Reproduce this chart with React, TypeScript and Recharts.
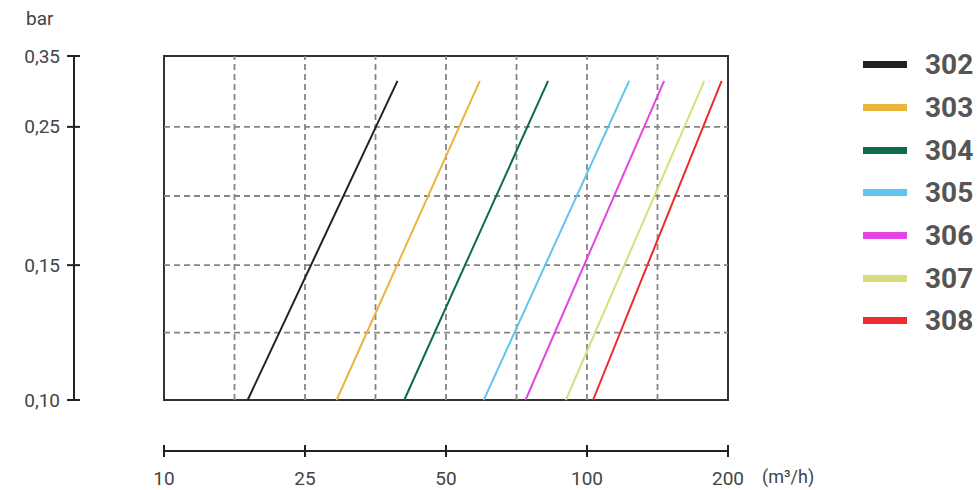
import { LineChart, Line, XAxis, YAxis, ReferenceLine, ReferenceArea } from 'recharts';

// axis labels (m3/h and bar); the chart places them at even steps, not on a true scale
const flowTicks = [10, 25, 50, 100, 200];
const pressureTicks = [0.1, 0.15, 0.25, 0.35];
const flowGrid = [17.5, 25, 37.5, 50, 75, 100, 150];
const pressureGrid = [0.125, 0.15, 0.2, 0.25];

const models = ['302', '303', '304', '305', '306', '307', '308'];
const colors = ['#222222', '#EDB43C', '#0D6B47', '#5EC5F0', '#E444E4', '#D9DE7C', '#EE2A2E'];
// flow at the bottom (0.10 bar) and top (~0.315 bar) of each curve
const flowStart = [18.9, 30.6, 42.6, 63.4, 78.2, 92.5, 104.3];
const flowEnd = [41.4, 62.0, 86.2, 129.9, 154.7, 183.2, 195.5];
const pressureStart = 0.1;
const pressureEnd = 0.315;

// step positions for the tick values
const flowSteps = [0, 1, 2, 3, 4];
const pressureSteps = [0, 0.98, 1.985, 2.5];

function toStep(v: number, vals: number[], steps: number[]) {
  for (let i = 0; i < vals.length - 1; i++) {
    if (v <= vals[i + 1] || i === vals.length - 2) {
      const t = (v - vals[i]) / (vals[i + 1] - vals[i]);
      return steps[i] + t * (steps[i + 1] - steps[i]);
    }
  }
  return steps[0];
}
const xs = (v: number) => toStep(v, flowTicks, flowSteps);
const ys = (v: number) => toStep(v, pressureTicks, pressureSteps);

const W = 979;
const H = 490;
const BOX_LEFT = 164;
const BOX_RIGHT = 728;
const BOX_TOP = 56;
const BOX_BOTTOM = 400;
const YAXIS_X = 74;
const XAXIS_Y = 451;
const pxX = (BOX_RIGHT - BOX_LEFT) / 4;
const pxY = (BOX_BOTTOM - BOX_TOP) / 2.5;
const xMin = -(BOX_LEFT - YAXIS_X) / pxX;
const yMin = -(XAXIS_Y - BOX_BOTTOM) / pxY;

const font = 'Roboto, "DejaVu Sans", sans-serif';
const axisColor = '#222';
const gridColor = '#858585';

const YTick = ({ x, y, payload }: any) => {
  const idx = pressureSteps.indexOf(payload.value);
  const label = idx >= 0 ? pressureTicks[idx].toFixed(2).replace('.', ',') : '';
  return (
    <g>
      <line x1={x - 7} x2={x + 6} y1={y} y2={y} stroke={axisColor} strokeWidth={2} />
      <text x={x - 14} y={y} textAnchor="end" dominantBaseline="central" fontSize={19} fill="#444" fontFamily={font}>
        {label}
      </text>
    </g>
  );
};

const XTick = ({ x, y, payload }: any) => {
  const idx = flowSteps.indexOf(payload.value);
  return (
    <g>
      <line x1={x} x2={x} y1={y - 6} y2={y + 6} stroke={axisColor} strokeWidth={2} />
      <text x={x} y={y + 27} textAnchor="middle" dominantBaseline="central" fontSize={19} fill="#444" fontFamily={font}>
        {idx >= 0 ? flowTicks[idx] : ''}
      </text>
    </g>
  );
};

export default function App() {
  return (
    <div style={{ position: 'absolute', left: 0, top: 0, width: W, height: H, background: '#fff' }}>
      <LineChart
        width={W}
        height={H}
        margin={{ top: BOX_TOP, left: 0, right: W - BOX_RIGHT, bottom: 0 }}
      >
        <XAxis
          type="number"
          dataKey="x"
          domain={[xMin, 4]}
          ticks={flowSteps}
          interval={0}
          allowDataOverflow
          height={H - XAXIS_Y}
          axisLine={false}
          tickLine={false}
          tickSize={0}
          tickMargin={0}
          tick={<XTick />}
        />
        <YAxis
          type="number"
          domain={[yMin, 2.5]}
          ticks={pressureSteps}
          interval={0}
          allowDataOverflow
          width={YAXIS_X}
          axisLine={false}
          tickLine={false}
          tickSize={0}
          tickMargin={0}
          tick={<YTick />}
        />
        {flowGrid.map((v) => (
          <ReferenceLine
            key={`gx${v}`}
            segment={[{ x: xs(v), y: 0 }, { x: xs(v), y: 2.5 }]}
            stroke={gridColor}
            strokeWidth={1.8}
            strokeDasharray="6 4"
            ifOverflow="visible"
          />
        ))}
        {pressureGrid.map((v) => (
          <ReferenceLine
            key={`gy${v}`}
            segment={[{ x: 0, y: ys(v) }, { x: 4, y: ys(v) }]}
            stroke={gridColor}
            strokeWidth={1.8}
            strokeDasharray="6 4"
            ifOverflow="visible"
          />
        ))}
        <ReferenceArea
          x1={0}
          x2={4}
          y1={0}
          y2={2.5}
          fill="none"
          fillOpacity={0}
          stroke="#333"
          strokeWidth={2}
          ifOverflow="visible"
        />
        <ReferenceLine
          segment={[{ x: xMin, y: 0 }, { x: xMin, y: 2.5 }]}
          stroke={axisColor}
          strokeWidth={2}
          ifOverflow="visible"
        />
        <ReferenceLine
          segment={[{ x: 0, y: yMin }, { x: 4, y: yMin }]}
          stroke={axisColor}
          strokeWidth={2}
          ifOverflow="visible"
        />
        {models.map((m, i) => (
          <Line
            key={m}
            name={m}
            type="linear"
            data={[
              { x: xs(flowStart[i]), y: ys(pressureStart) },
              { x: xs(flowEnd[i]), y: ys(pressureEnd) },
            ]}
            dataKey="y"
            stroke={colors[i]}
            strokeWidth={2}
            dot={false}
            activeDot={false}
            isAnimationActive={false}
          />
        ))}
      </LineChart>
      <div style={{ position: 'absolute', left: 26, top: 7, fontFamily: font, fontSize: 19, color: '#444' }}>bar</div>
      <div style={{ position: 'absolute', left: 762, top: 466, fontFamily: font, fontSize: 18, color: '#444' }}>
        (m³/h)
      </div>
      {models.map((m, i) => (
        <div
          key={m}
          style={{
            position: 'absolute',
            left: 863,
            top: 64.7 + i * 42.7 - 20,
            height: 40,
            display: 'flex',
            alignItems: 'center',
            fontFamily: font,
          }}
        >
          <div style={{ width: 44, height: 7, background: colors[i] }} />
          <span style={{ marginLeft: 18, fontSize: 28, fontWeight: 700, color: '#555' }}>{m}</span>
        </div>
      ))}
    </div>
  );
}
